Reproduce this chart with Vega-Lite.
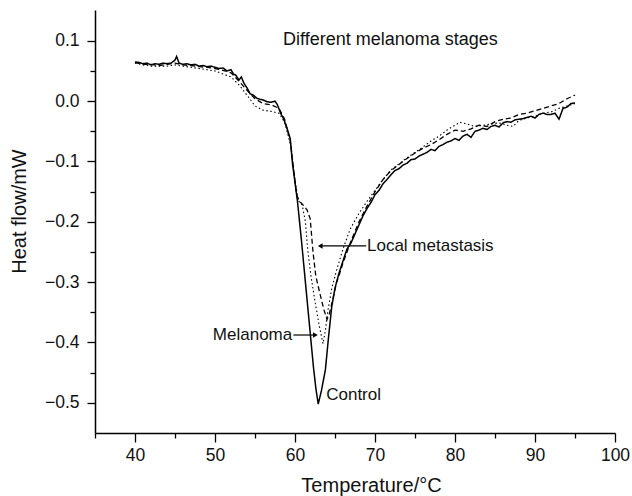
{
  "$schema": "https://vega.github.io/schema/vega-lite/v6.json",
  "width": 520,
  "height": 423,
  "autosize": {"type": "none"},
  "padding": {"left": 95, "top": 10, "right": 17, "bottom": 63},
  "background": "white",
  "config": {
    "view": {"stroke": null},
    "font": "Liberation Sans",
    "axis": {
      "grid": false,
      "domainColor": "black",
      "domainWidth": 1.5,
      "tickColor": "black",
      "tickWidth": 1.3,
      "labelColor": "#111",
      "labelFont": "Liberation Sans",
      "labelFontSize": 17.5,
      "titleFont": "Liberation Sans",
      "titleFontSize": 20,
      "titleFontWeight": "normal",
      "titleColor": "#111",
      "labelOverlap": false,
      "labelFlush": false
    }
  },
  "resolve": {"axis": {"x": "independent", "y": "independent"}},
  "datasets": {
    "curves": [
      {"T":40,"H":0.065,"s":"Control"},{"T":40.5,"H":0.064,"s":"Control"},{"T":41,"H":0.062,"s":"Control"},{"T":41.5,"H":0.063,"s":"Control"},{"T":42,"H":0.06,"s":"Control"},{"T":42.5,"H":0.062,"s":"Control"},{"T":43,"H":0.061,"s":"Control"},{"T":43.5,"H":0.063,"s":"Control"},{"T":44,"H":0.062,"s":"Control"},{"T":44.5,"H":0.063,"s":"Control"},{"T":45,"H":0.068,"s":"Control"},{"T":45.2,"H":0.074,"s":"Control"},{"T":45.5,"H":0.063,"s":"Control"},{"T":46,"H":0.061,"s":"Control"},{"T":46.5,"H":0.062,"s":"Control"},{"T":47,"H":0.06,"s":"Control"},{"T":47.5,"H":0.061,"s":"Control"},{"T":48,"H":0.058,"s":"Control"},{"T":48.5,"H":0.059,"s":"Control"},{"T":49,"H":0.057,"s":"Control"},{"T":49.5,"H":0.058,"s":"Control"},{"T":50,"H":0.056,"s":"Control"},{"T":50.5,"H":0.054,"s":"Control"},{"T":51,"H":0.055,"s":"Control"},{"T":51.5,"H":0.05,"s":"Control"},{"T":52,"H":0.052,"s":"Control"},{"T":52.3,"H":0.045,"s":"Control"},{"T":52.6,"H":0.043,"s":"Control"},{"T":53,"H":0.035,"s":"Control"},{"T":53.3,"H":0.04,"s":"Control"},{"T":53.6,"H":0.03,"s":"Control"},{"T":54,"H":0.022,"s":"Control"},{"T":54.4,"H":0.012,"s":"Control"},{"T":54.8,"H":0.01,"s":"Control"},{"T":55.2,"H":0.005,"s":"Control"},{"T":55.6,"H":0.003,"s":"Control"},{"T":56,"H":0.002,"s":"Control"},{"T":56.5,"H":-0.001,"s":"Control"},{"T":57,"H":-0.002,"s":"Control"},{"T":57.5,"H":0.0,"s":"Control"},{"T":57.8,"H":-0.006,"s":"Control"},{"T":58.2,"H":-0.02,"s":"Control"},{"T":58.6,"H":-0.03,"s":"Control"},{"T":59,"H":-0.045,"s":"Control"},{"T":59.4,"H":-0.062,"s":"Control"},{"T":59.7,"H":-0.105,"s":"Control"},{"T":60,"H":-0.135,"s":"Control"},{"T":60.3,"H":-0.165,"s":"Control"},{"T":60.8,"H":-0.23,"s":"Control"},{"T":61.3,"H":-0.3,"s":"Control"},{"T":61.8,"H":-0.37,"s":"Control"},{"T":62.3,"H":-0.44,"s":"Control"},{"T":62.6,"H":-0.475,"s":"Control"},{"T":62.9,"H":-0.502,"s":"Control"},{"T":63.3,"H":-0.48,"s":"Control"},{"T":63.8,"H":-0.445,"s":"Control"},{"T":64.2,"H":-0.39,"s":"Control"},{"T":64.6,"H":-0.34,"s":"Control"},{"T":65,"H":-0.31,"s":"Control"},{"T":65.5,"H":-0.285,"s":"Control"},{"T":66,"H":-0.265,"s":"Control"},{"T":66.5,"H":-0.245,"s":"Control"},{"T":67,"H":-0.235,"s":"Control"},{"T":67.5,"H":-0.22,"s":"Control"},{"T":68,"H":-0.205,"s":"Control"},{"T":68.5,"H":-0.19,"s":"Control"},{"T":69,"H":-0.178,"s":"Control"},{"T":69.5,"H":-0.168,"s":"Control"},{"T":70,"H":-0.155,"s":"Control"},{"T":70.5,"H":-0.148,"s":"Control"},{"T":71,"H":-0.137,"s":"Control"},{"T":71.5,"H":-0.13,"s":"Control"},{"T":72,"H":-0.122,"s":"Control"},{"T":72.5,"H":-0.115,"s":"Control"},{"T":73,"H":-0.112,"s":"Control"},{"T":73.5,"H":-0.106,"s":"Control"},{"T":74,"H":-0.103,"s":"Control"},{"T":74.5,"H":-0.097,"s":"Control"},{"T":75,"H":-0.096,"s":"Control"},{"T":75.5,"H":-0.091,"s":"Control"},{"T":76,"H":-0.088,"s":"Control"},{"T":76.5,"H":-0.085,"s":"Control"},{"T":77,"H":-0.08,"s":"Control"},{"T":77.5,"H":-0.082,"s":"Control"},{"T":78,"H":-0.075,"s":"Control"},{"T":78.5,"H":-0.072,"s":"Control"},{"T":79,"H":-0.068,"s":"Control"},{"T":79.5,"H":-0.066,"s":"Control"},{"T":80,"H":-0.062,"s":"Control"},{"T":80.5,"H":-0.065,"s":"Control"},{"T":81,"H":-0.058,"s":"Control"},{"T":81.5,"H":-0.055,"s":"Control"},{"T":82,"H":-0.06,"s":"Control"},{"T":82.5,"H":-0.05,"s":"Control"},{"T":83,"H":-0.048,"s":"Control"},{"T":83.5,"H":-0.045,"s":"Control"},{"T":84,"H":-0.047,"s":"Control"},{"T":84.5,"H":-0.042,"s":"Control"},{"T":85,"H":-0.04,"s":"Control"},{"T":85.5,"H":-0.043,"s":"Control"},{"T":86,"H":-0.036,"s":"Control"},{"T":86.5,"H":-0.034,"s":"Control"},{"T":87,"H":-0.035,"s":"Control"},{"T":87.5,"H":-0.031,"s":"Control"},{"T":88,"H":-0.03,"s":"Control"},{"T":88.5,"H":-0.029,"s":"Control"},{"T":89,"H":-0.027,"s":"Control"},{"T":89.5,"H":-0.025,"s":"Control"},{"T":90,"H":-0.028,"s":"Control"},{"T":90.5,"H":-0.022,"s":"Control"},{"T":91,"H":-0.02,"s":"Control"},{"T":91.5,"H":-0.022,"s":"Control"},{"T":92,"H":-0.022,"s":"Control"},{"T":92.5,"H":-0.02,"s":"Control"},{"T":93,"H":-0.03,"s":"Control"},{"T":93.5,"H":-0.012,"s":"Control"},{"T":94,"H":-0.01,"s":"Control"},{"T":94.5,"H":-0.004,"s":"Control"},{"T":95,"H":-0.003,"s":"Control"},

      {"T":40,"H":0.064,"s":"Local metastasis"},{"T":41,"H":0.061,"s":"Local metastasis"},{"T":42,"H":0.061,"s":"Local metastasis"},{"T":43,"H":0.059,"s":"Local metastasis"},{"T":44,"H":0.061,"s":"Local metastasis"},{"T":45,"H":0.063,"s":"Local metastasis"},{"T":46,"H":0.06,"s":"Local metastasis"},{"T":47,"H":0.059,"s":"Local metastasis"},{"T":48,"H":0.057,"s":"Local metastasis"},{"T":49,"H":0.056,"s":"Local metastasis"},{"T":50,"H":0.054,"s":"Local metastasis"},{"T":51,"H":0.051,"s":"Local metastasis"},{"T":52,"H":0.047,"s":"Local metastasis"},{"T":53,"H":0.033,"s":"Local metastasis"},{"T":54,"H":0.018,"s":"Local metastasis"},{"T":55,"H":0.004,"s":"Local metastasis"},{"T":56,"H":-0.004,"s":"Local metastasis"},{"T":57,"H":-0.006,"s":"Local metastasis"},{"T":58,"H":-0.012,"s":"Local metastasis"},{"T":58.7,"H":-0.03,"s":"Local metastasis"},{"T":59.4,"H":-0.065,"s":"Local metastasis"},{"T":59.8,"H":-0.11,"s":"Local metastasis"},{"T":60.2,"H":-0.155,"s":"Local metastasis"},{"T":60.5,"H":-0.165,"s":"Local metastasis"},{"T":61,"H":-0.172,"s":"Local metastasis"},{"T":61.5,"H":-0.18,"s":"Local metastasis"},{"T":61.9,"H":-0.195,"s":"Local metastasis"},{"T":62.25,"H":-0.25,"s":"Local metastasis"},{"T":62.6,"H":-0.29,"s":"Local metastasis"},{"T":63.1,"H":-0.318,"s":"Local metastasis"},{"T":63.6,"H":-0.345,"s":"Local metastasis"},{"T":64,"H":-0.362,"s":"Local metastasis"},{"T":64.3,"H":-0.352,"s":"Local metastasis"},{"T":64.7,"H":-0.33,"s":"Local metastasis"},{"T":65.2,"H":-0.3,"s":"Local metastasis"},{"T":65.6,"H":-0.285,"s":"Local metastasis"},{"T":66,"H":-0.268,"s":"Local metastasis"},{"T":67,"H":-0.232,"s":"Local metastasis"},{"T":68,"H":-0.2,"s":"Local metastasis"},{"T":69,"H":-0.174,"s":"Local metastasis"},{"T":70,"H":-0.15,"s":"Local metastasis"},{"T":71,"H":-0.13,"s":"Local metastasis"},{"T":72,"H":-0.115,"s":"Local metastasis"},{"T":73,"H":-0.105,"s":"Local metastasis"},{"T":74,"H":-0.095,"s":"Local metastasis"},{"T":75,"H":-0.086,"s":"Local metastasis"},{"T":76,"H":-0.078,"s":"Local metastasis"},{"T":77,"H":-0.072,"s":"Local metastasis"},{"T":78,"H":-0.064,"s":"Local metastasis"},{"T":79,"H":-0.055,"s":"Local metastasis"},{"T":80,"H":-0.048,"s":"Local metastasis"},{"T":81,"H":-0.05,"s":"Local metastasis"},{"T":82,"H":-0.046,"s":"Local metastasis"},{"T":83,"H":-0.04,"s":"Local metastasis"},{"T":84,"H":-0.042,"s":"Local metastasis"},{"T":85,"H":-0.034,"s":"Local metastasis"},{"T":86,"H":-0.03,"s":"Local metastasis"},{"T":87,"H":-0.028,"s":"Local metastasis"},{"T":88,"H":-0.022,"s":"Local metastasis"},{"T":89,"H":-0.02,"s":"Local metastasis"},{"T":90,"H":-0.016,"s":"Local metastasis"},{"T":91,"H":-0.012,"s":"Local metastasis"},{"T":92,"H":-0.008,"s":"Local metastasis"},{"T":93,"H":-0.004,"s":"Local metastasis"},{"T":94,"H":0.004,"s":"Local metastasis"},{"T":95,"H":0.01,"s":"Local metastasis"},

      {"T":40,"H":0.063,"s":"Melanoma"},{"T":41,"H":0.06,"s":"Melanoma"},{"T":42,"H":0.058,"s":"Melanoma"},{"T":43,"H":0.058,"s":"Melanoma"},{"T":44,"H":0.058,"s":"Melanoma"},{"T":45,"H":0.06,"s":"Melanoma"},{"T":46,"H":0.058,"s":"Melanoma"},{"T":47,"H":0.056,"s":"Melanoma"},{"T":48,"H":0.054,"s":"Melanoma"},{"T":49,"H":0.052,"s":"Melanoma"},{"T":50,"H":0.05,"s":"Melanoma"},{"T":51,"H":0.045,"s":"Melanoma"},{"T":52,"H":0.04,"s":"Melanoma"},{"T":53,"H":0.027,"s":"Melanoma"},{"T":54,"H":0.01,"s":"Melanoma"},{"T":55,"H":-0.008,"s":"Melanoma"},{"T":56,"H":-0.015,"s":"Melanoma"},{"T":57,"H":-0.017,"s":"Melanoma"},{"T":58,"H":-0.02,"s":"Melanoma"},{"T":58.7,"H":-0.035,"s":"Melanoma"},{"T":59.5,"H":-0.075,"s":"Melanoma"},{"T":60,"H":-0.13,"s":"Melanoma"},{"T":60.4,"H":-0.165,"s":"Melanoma"},{"T":60.9,"H":-0.172,"s":"Melanoma"},{"T":61.3,"H":-0.2,"s":"Melanoma"},{"T":61.6,"H":-0.248,"s":"Melanoma"},{"T":62,"H":-0.29,"s":"Melanoma"},{"T":62.5,"H":-0.332,"s":"Melanoma"},{"T":63,"H":-0.37,"s":"Melanoma"},{"T":63.5,"H":-0.402,"s":"Melanoma"},{"T":63.8,"H":-0.38,"s":"Melanoma"},{"T":64.1,"H":-0.348,"s":"Melanoma"},{"T":64.6,"H":-0.31,"s":"Melanoma"},{"T":65.2,"H":-0.28,"s":"Melanoma"},{"T":66,"H":-0.245,"s":"Melanoma"},{"T":66.9,"H":-0.212,"s":"Melanoma"},{"T":68,"H":-0.186,"s":"Melanoma"},{"T":69,"H":-0.166,"s":"Melanoma"},{"T":70,"H":-0.148,"s":"Melanoma"},{"T":71,"H":-0.13,"s":"Melanoma"},{"T":72,"H":-0.114,"s":"Melanoma"},{"T":73,"H":-0.104,"s":"Melanoma"},{"T":74,"H":-0.094,"s":"Melanoma"},{"T":75,"H":-0.085,"s":"Melanoma"},{"T":76,"H":-0.076,"s":"Melanoma"},{"T":77,"H":-0.066,"s":"Melanoma"},{"T":78,"H":-0.058,"s":"Melanoma"},{"T":79,"H":-0.048,"s":"Melanoma"},{"T":80,"H":-0.04,"s":"Melanoma"},{"T":80.6,"H":-0.035,"s":"Melanoma"},{"T":81.5,"H":-0.038,"s":"Melanoma"},{"T":82.5,"H":-0.042,"s":"Melanoma"},{"T":83.5,"H":-0.04,"s":"Melanoma"},{"T":84.5,"H":-0.038,"s":"Melanoma"},{"T":85.5,"H":-0.036,"s":"Melanoma"},{"T":86.5,"H":-0.04,"s":"Melanoma"},{"T":87.25,"H":-0.042,"s":"Melanoma"},{"T":88,"H":-0.032,"s":"Melanoma"},{"T":89,"H":-0.028,"s":"Melanoma"},{"T":90,"H":-0.025,"s":"Melanoma"},{"T":91,"H":-0.02,"s":"Melanoma"},{"T":92,"H":-0.018,"s":"Melanoma"},{"T":93,"H":-0.012,"s":"Melanoma"},{"T":94,"H":-0.008,"s":"Melanoma"},{"T":95,"H":-0.004,"s":"Melanoma"}
    ],
    "arrows": [
      {"x1": 59.8, "x2": 62.4, "y": -0.3876, "tip": 62.55, "dir": "right"},
      {"x1": 68.9, "x2": 63.3, "y": -0.240, "tip": 63.15, "dir": "left"}
    ]
  },
  "layer": [
    {
      "data": {"name": "curves"},
      "mark": {"type": "line", "color": "black", "interpolate": "linear"},
      "encoding": {
        "x": {
          "field": "T", "type": "quantitative",
          "scale": {"domain": [35, 100], "nice": false, "zero": false},
          "axis": {
            "orient": "bottom",
            "title": "Temperature/°C",
            "values": [40, 50, 60, 70, 80, 90, 100],
            "format": "d",
            "tickSize": 9,
            "labelPadding": 4,
            "titleX": 276,
            "titleY": 42
          }
        },
        "y": {
          "field": "H", "type": "quantitative",
          "scale": {"domain": [-0.55, 0.151], "nice": false, "zero": false},
          "axis": {
            "orient": "left",
            "title": "Heat flow/mW",
            "values": [-0.5, -0.4, -0.3, -0.2, -0.1, 0, 0.1],
            "format": ".1f",
            "tickSize": 8,
            "labelPadding": 8,
            "titlePadding": 15,
            "titleY": 201
          }
        },
        "detail": {"field": "s"},
        "strokeDash": {
          "field": "s", "type": "nominal",
          "scale": {"domain": ["Control", "Local metastasis", "Melanoma"], "range": [[1, 0], [5, 3], [1.5, 2.5]]},
          "legend": null
        },
        "strokeWidth": {
          "field": "s", "type": "nominal",
          "scale": {"domain": ["Control", "Local metastasis", "Melanoma"], "range": [1.5, 1.1, 1.2]},
          "legend": null
        }
      }
    },
    {
      "data": {"name": "arrows"},
      "mark": {"type": "point", "opacity": 0},
      "encoding": {
        "x": {
          "field": "tip", "type": "quantitative",
          "axis": {
            "orient": "bottom",
            "title": null,
            "values": [35, 45, 55, 65, 75, 85, 95],
            "labels": false,
            "domain": false,
            "tickSize": 5
          }
        },
        "y": {
          "field": "y", "type": "quantitative",
          "axis": {
            "orient": "left",
            "title": null,
            "values": [-0.45, -0.35, -0.25, -0.15, -0.05, 0.05],
            "labels": false,
            "domain": false,
            "tickSize": 5
          }
        }
      }
    },
    {
      "data": {"name": "arrows"},
      "mark": {"type": "rule", "color": "black", "strokeWidth": 1.2},
      "encoding": {
        "x": {"field": "x1", "type": "quantitative", "axis": null},
        "x2": {"field": "x2"},
        "y": {"field": "y", "type": "quantitative", "axis": null}
      }
    },
    {
      "data": {"name": "arrows"},
      "mark": {"type": "point", "filled": true, "color": "black", "opacity": 1, "size": 30},
      "encoding": {
        "x": {"field": "tip", "type": "quantitative", "axis": null},
        "y": {"field": "y", "type": "quantitative", "axis": null},
        "shape": {
          "field": "dir", "type": "nominal",
          "scale": {"domain": ["right", "left"], "range": ["triangle-right", "triangle-left"]},
          "legend": null
        }
      }
    },
    {
      "data": {"values": [{"T": 58.5, "H": 0.1013, "t": "Different melanoma stages"}]},
      "mark": {"type": "text", "align": "left", "baseline": "middle", "fontSize": 18, "font": "Liberation Sans", "color": "#111"},
      "encoding": {
        "x": {"field": "T", "type": "quantitative", "axis": null},
        "y": {"field": "H", "type": "quantitative", "axis": null},
        "text": {"field": "t"}
      }
    },
    {
      "data": {"values": [{"T": 69.0, "H": -0.240, "t": "Local metastasis"}, {"T": 63.9, "H": -0.487, "t": "Control"}]},
      "mark": {"type": "text", "align": "left", "baseline": "middle", "fontSize": 17, "font": "Liberation Sans", "color": "#111"},
      "encoding": {
        "x": {"field": "T", "type": "quantitative", "axis": null},
        "y": {"field": "H", "type": "quantitative", "axis": null},
        "text": {"field": "t"}
      }
    },
    {
      "data": {"values": [{"T": 59.65, "H": -0.3876, "t": "Melanoma"}]},
      "mark": {"type": "text", "align": "right", "baseline": "middle", "fontSize": 17, "font": "Liberation Sans", "color": "#111"},
      "encoding": {
        "x": {"field": "T", "type": "quantitative", "axis": null},
        "y": {"field": "H", "type": "quantitative", "axis": null},
        "text": {"field": "t"}
      }
    }
  ]
}
